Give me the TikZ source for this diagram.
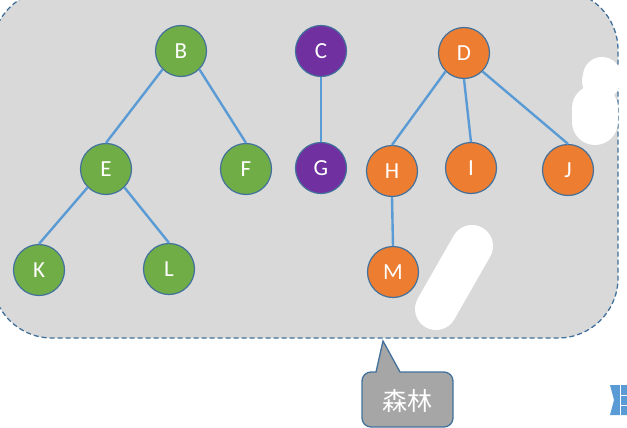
\documentclass[tikz,border=0pt]{standalone}
\usepackage{fontspec}
\setmainfont{Carlito}
\newfontfamily\cjk{Noto Sans CJK SC}

\definecolor{forestgray}{HTML}{D9D9D9}
\definecolor{rimblue}{HTML}{41719C}
\definecolor{edgeblue}{HTML}{5B9BD5}
\definecolor{treegreen}{HTML}{70AD47}
\definecolor{treepurple}{HTML}{7030A0}
\definecolor{treeorange}{HTML}{ED7D31}

\begin{document}
\begin{tikzpicture}[
  x=1pt,y=-1pt,
  font=\fontsize{23}{25}\selectfont,
  vertex/.style={circle,draw=rimblue,line width=1.2pt,minimum size=51pt,inner sep=0pt,text=white},
  gvertex/.style={vertex,fill=treegreen},
  pvertex/.style={vertex,fill=treepurple},
  overtex/.style={vertex,fill=treeorange},
  link/.style={draw=edgeblue,line width=2.4pt},
  erased/.style={draw=white,line cap=round},
]
\clip (0,0) rectangle (627,428);

% forest outline
\node[rectangle,rounded corners=60pt,draw=rimblue,fill=forestgray,line width=1.3pt,
      dash pattern=on 5pt off 3pt,
      minimum width=626pt,minimum height=348pt,inner sep=0pt] (forest) at (305,164) {};

% three trees
\node[gvertex] (B) at (181,51) {B};
\node[gvertex] (E) at (106,169) {E};
\node[gvertex] (F) at (246,169) {F};
\node[gvertex] (K) at (39,270) {K};
\node[gvertex] (L) at (169,269) {L};

\node[pvertex] (C) at (321,51) {C};
\node[pvertex] (G) at (321,168) {G};

\node[overtex] (D) at (464,53) {D};
\node[overtex] (H) at (392,171) {H};
\node[overtex] (I) at (471,168) {I};
\node[overtex] (J) at (568,170) {J};
\node[overtex] (M) at (393,272) {M};

\draw[link] (B.south west)--(E.north);
\draw[link] (B.south east)--(F.north);
\draw[link] (E.south west)--(K.north);
\draw[link] (E.south east)--(L.north);
\draw[link] (C.south)--(G.north);
\draw[link] (D.south west)--(H.north);
\draw[link] (D.south)--(I.north);
\draw[link] (D.south east)--(J.north);
\draw[link] (H.south)--(M.north);

% rubbed out patches
\draw[erased,line width=38pt] (602,76)--(601,81);
\draw[erased,line width=46pt] (595,108)--(595,122);
\draw[erased,line width=42pt] (472,246)--(436,309);

% label with its pointer
\coordinate (tip) at (383,341);
\draw[draw=rimblue,fill=black!35,line width=1.3pt,rounded corners=9pt]
  (tip) [sharp corners] --(376,372) [rounded corners=9pt] --(362,372)--(362,427)--(453,427)--(453,372)
  [sharp corners] --(400,372)--cycle;
\node[text=white,inner sep=0pt,font=\cjk\fontsize{25}{27}\selectfont] (label) at (407,401) {森林};

% clipped piece at the edge
\fill[edgeblue] (610,385)--(627,385)--(627,415)--(610,415)--(614,400)--cycle;
\draw[white,line width=1pt] (620,385)--(620,415) (620,395)--(627,395) (620,405)--(627,405);
\end{tikzpicture}
\end{document}
